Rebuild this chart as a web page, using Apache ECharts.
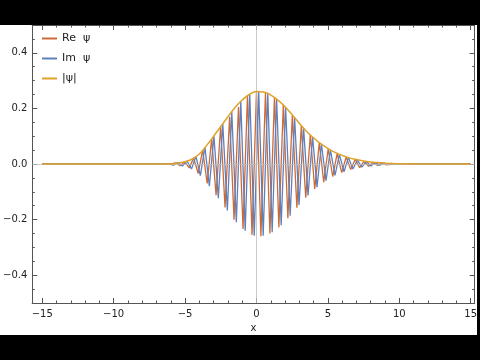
<!DOCTYPE html>
<html><head><meta charset="utf-8">
<script src="https://cdn.jsdelivr.net/npm/echarts@6/dist/echarts.min.js"></script>
<style>html,body{margin:0;padding:0;background:#fff}#c{width:480px;height:360px}</style>
</head><body><div id="c"></div>
<script>
// Re ψ extrema
const reX = [-15,-6,-5.65,-5.34,-5.02,-4.71,-4.40,-4.08,-3.77,-3.45,-3.14,-2.83,-2.51,-2.20,-1.88,-1.57,-1.26,-0.94,-0.63,-0.31,0,0.31,0.63,0.94,1.26,1.57,1.88,2.20,2.51,2.83,3.14,3.45,3.77,4.08,4.40,4.71,5.02,5.34,5.65,5.97,6.28,6.60,6.91,7.23,7.54,7.85,8.17,8.48,8.80,9.11,9.42,9.7,15];
const reY = [0,0,0.004,-0.006,0.008,-0.014,0.022,-0.034,0.05,-0.07,0.09,-0.112,0.134,-0.156,0.17,-0.2,0.205,-0.234,0.246,-0.255,0.26,-0.26,0.256,-0.25,0.24,-0.228,0.212,-0.195,0.175,-0.157,0.138,-0.121,0.105,-0.09,0.077,-0.065,0.054,-0.045,0.037,-0.031,0.025,-0.02,0.016,-0.013,0.01,-0.008,0.006,-0.005,0.004,-0.003,0.002,0,0];
// Im ψ extrema
const imX = [-15,-6.1,-5.81,-5.50,-5.18,-4.87,-4.55,-4.24,-3.93,-3.61,-3.30,-2.98,-2.67,-2.36,-2.04,-1.73,-1.41,-1.10,-0.79,-0.47,-0.157,0.157,0.47,0.79,1.10,1.41,1.73,2.04,2.36,2.67,2.98,3.30,3.61,3.93,4.24,4.55,4.87,5.18,5.50,5.81,6.13,6.44,6.75,7.07,7.38,7.70,8.01,8.33,8.64,8.95,9.27,9.6,15];
const imY = [0,0,-0.004,0.005,-0.007,0.011,-0.018,0.028,-0.042,0.06,-0.08,0.101,-0.123,0.145,-0.167,0.189,-0.209,0.226,-0.24,0.251,-0.258,0.261,-0.258,0.253,-0.245,0.234,-0.22,0.204,-0.186,0.166,-0.147,0.129,-0.113,0.097,-0.083,0.071,-0.06,0.05,-0.041,0.034,-0.028,0.023,-0.018,0.014,-0.011,0.009,-0.007,0.005,-0.004,0.003,-0.002,0,0];
// |ψ| envelope
const absX = [-15,-6,-5.5,-5,-4.5,-4,-3.5,-3,-2.5,-2,-1.5,-1,-0.5,0,0.5,1,1.5,2,2.5,3,3.5,4,4.5,5,5.5,6,6.5,7,7.5,8,8.5,9,10,11,15];
const absY = [0,0,0.004,0.008,0.018,0.036,0.066,0.1,0.135,0.17,0.203,0.23,0.25,0.261,0.259,0.248,0.23,0.206,0.177,0.147,0.118,0.094,0.073,0.056,0.042,0.031,0.022,0.016,0.011,0.007,0.005,0.003,0.001,0,0];
const xMajor = [-15,-10,-5,0,5,10,15];
const xMinor = [-15,-14,-13,-12,-11,-10,-9,-8,-7,-6,-5,-4,-3,-2,-1,0,1,2,3,4,5,6,7,8,9,10,11,12,13,14,15];
const yMajor = [-0.4,-0.2,0,0.2,0.4];
const yMinor = [-0.5,-0.45,-0.4,-0.35,-0.3,-0.25,-0.2,-0.15,-0.1,-0.05,0,0.05,0.1,0.15,0.2,0.25,0.3,0.35,0.4,0.45,0.5];
const names = ['Re  ψ','Im  ψ','|ψ|'];

const zip = (a,b)=>a.map((v,i)=>[v,b[i]]);
const XMIN=-15.7, XMAX=15.28, YMIN=-0.5, YMAX=0.5;
const frame = '#555';
const font = 'DejaVu Sans';
function fmtX(v){return (v<0?'\u2212':'')+Math.abs(v);}
function fmtY(v){return (v<0?'\u2212':'')+Math.abs(v).toFixed(1);}
function xa(pos, vals, len, labels){
  return {type:'value',position:pos,min:XMIN,max:XMAX,
    axisLine:{show:true,onZero:false,lineStyle:{color:frame,width:1}},
    splitLine:{show:false},
    axisTick:{show:true,inside:true,length:len,customValues:vals,lineStyle:{color:frame}},
    axisLabel:labels?{show:true,customValues:vals,formatter:fmtX,color:'#222',fontFamily:font,fontSize:10,margin:6}:{show:false},
    name: labels&&pos==='bottom'&&len===5 ? 'x':'', nameLocation:'middle', nameGap:20,
    nameTextStyle:{color:'#222',fontFamily:font,fontSize:10}};
}
function ya(pos, vals, len, labels){
  return {type:'value',position:pos,min:YMIN,max:YMAX,
    axisLine:{show:true,onZero:false,lineStyle:{color:frame,width:1}},
    splitLine:{show:false},
    axisTick:{show:true,inside:true,length:len,customValues:vals,lineStyle:{color:frame}},
    axisLabel:labels?{show:true,customValues:vals,formatter:fmtY,color:'#222',fontFamily:font,fontSize:10,margin:5}:{show:false}};
}
const colors=['#cc6a35','#5f7fbd','#e0a22c'];
const chart = echarts.init(document.getElementById('c'),null,{renderer:'canvas'});
chart.setOption({
  animation:false,
  backgroundColor:'#fff',
  grid:{left:29,right:4,top:25,bottom:57,containLabel:false},
  xAxis:[xa('bottom',xMajor,5,true),xa('bottom',xMinor,2.5,false),xa('top',xMajor,5,false),xa('top',xMinor,2.5,false)],
  yAxis:[ya('left',yMajor,5,true),ya('left',yMinor,2.5,false),ya('right',yMajor,5,false),ya('right',yMinor,2.5,false)],
  legend:{orient:'vertical',left:37,top:27,itemWidth:15,itemHeight:2,itemGap:7,icon:'rect',
    textStyle:{color:'#222',fontFamily:font,fontSize:11,lineHeight:13},data:names},
  series:[
    {name:names[0],type:'line',data:zip(reX,reY),showSymbol:false,symbol:'none',color:colors[0],lineStyle:{width:1.3},z:3,
      markLine:{silent:true,symbol:'none',label:{show:false},lineStyle:{color:'#bdbdbd',width:0.8,type:'solid'},data:[{xAxis:0},{yAxis:0}]}},
    {name:names[1],type:'line',data:zip(imX,imY),showSymbol:false,symbol:'none',color:colors[1],lineStyle:{width:1.3},z:4},
    {name:names[2],type:'line',data:zip(absX,absY),showSymbol:false,symbol:'none',smooth:true,color:colors[2],lineStyle:{width:1.5},z:5}
  ],
  graphic:[
    {type:'rect',shape:{x:0,y:0,width:480,height:25},style:{fill:'#000'},z:100},
    {type:'rect',shape:{x:0,y:335,width:480,height:25},style:{fill:'#000'},z:100},
    {type:'rect',shape:{x:477,y:0,width:3,height:360},style:{fill:'#000'},z:100}
  ]
});
</script></body></html>
